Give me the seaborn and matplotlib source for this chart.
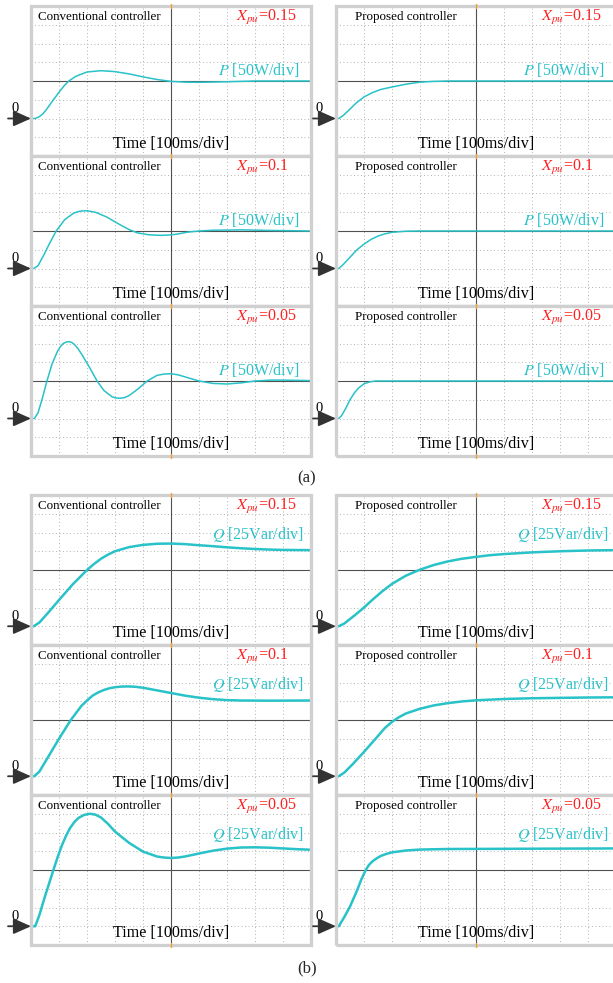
import numpy as np
import matplotlib
matplotlib.use("Agg")
import matplotlib.pyplot as plt
from matplotlib.patches import Rectangle
from matplotlib.ticker import MultipleLocator
import seaborn as sns

# ---------------- measured step responses ----------------
# (a) active power P [W], time t [ms]
p_conv_015_t = [0, 15, 30, 40, 50, 60, 75, 87, 100, 117, 135, 160, 200, 250, 300, 350, 400, 450, 500, 550, 600,
                700, 800, 1000]
p_conv_015 = [0, 0, 5, 11, 19, 29, 45, 57, 70, 86, 100, 112.5, 124, 127.5, 125, 119, 111, 104, 99, 97, 96.5,
              98, 100, 100]

p_prop_015_t = [0, 10, 25, 50, 70, 100, 130, 160, 200, 250, 300, 350, 400, 1000]
p_prop_015 = [0, 0, 7.5, 25, 40, 57.5, 69, 77.5, 84, 91.5, 97, 99, 100, 100]

p_conv_010_t = [0, 10, 25, 45, 65, 90, 120, 150, 165, 180, 200, 230, 270, 310, 350, 380, 420, 445, 470, 495, 520,
                560, 600, 650, 750, 850, 1000]
p_conv_010 = [0, 0, 7.5, 35, 65, 100, 130, 146.5, 151, 153.5, 154, 150, 137.5, 120, 104, 95, 90, 89, 88.5, 89.5,
              91.5, 97, 100, 102, 103, 101.5, 100]

p_prop_010_t = [0, 10, 25, 50, 75, 100, 125, 150, 175, 200, 250, 300, 1000]
p_prop_010 = [0, 0, 10, 30, 50, 65, 77.5, 86.5, 92.5, 96.5, 99.5, 100, 100]

p_conv_005_t = [0, 12, 25, 40, 57, 75, 95, 105, 115, 125, 135, 145, 155, 167, 180, 195, 210, 236, 260, 290, 305,
                320, 335, 350, 380, 415, 450, 475, 500, 525, 550, 600, 650, 700, 750, 800, 860, 930, 1000]
p_conv_005 = [0, 0, 15, 52.5, 100, 145, 180, 191.5, 200, 203.5, 205, 203, 197.5, 187, 172.5, 154, 135, 100, 75,
              57.5, 54.5, 54, 56, 61, 77.5, 100, 115, 118.5, 119.5, 116.5, 111, 100, 93.5, 92, 95, 100, 102.5,
              102, 101]

p_prop_005_t = [0, 10, 20, 35, 50, 65, 80, 100, 120, 140, 1000]
p_prop_005 = [0, 0, 7.5, 27.5, 50, 67.5, 81, 92.5, 97.5, 100, 100]

# (b) reactive power Q [Var], time t [ms]
q_conv_015_t = [0, 10, 30, 60, 100, 150, 200, 225, 250, 275, 300, 350, 400, 450, 500, 550, 600, 650, 700, 750,
                800, 850, 900, 1000]
q_conv_015 = [0, 0, 5, 17.5, 35, 56.25, 75, 83, 90, 95.5, 100, 105.5, 108.5, 110, 110.25, 109.5, 108, 106.75,
              105.25, 104, 103, 102.25, 101.75, 101.5]

q_prop_015_t = [0, 10, 30, 70, 100, 130, 165, 200, 250, 300, 350, 400, 450, 500, 550, 600, 700, 800, 900, 1000]
q_prop_015 = [0, 0, 3.75, 15.5, 25, 35.25, 46.5, 56.5, 67.5, 75.5, 81.75, 86.5, 90, 92.5, 94.75, 96.25, 98.5,
              100, 101, 101.5]

q_conv_010_t = [0, 12, 30, 60, 100, 142, 180, 200, 220, 240, 260, 280, 300, 325, 350, 375, 400, 450, 500, 550,
                600, 650, 700, 750, 850, 1000]
q_conv_010 = [0, 0, 6.25, 25, 50, 75, 93.75, 101, 107.5, 111.8, 115, 117.3, 118.75, 119.6, 119.75, 119.2, 118,
              114.5, 111, 107.5, 104.75, 102.75, 101.5, 101, 100.75, 101]

q_prop_010_t = [0, 10, 30, 60, 100, 150, 175, 200, 225, 250, 300, 350, 400, 450, 500, 600, 700, 800, 900, 1000]
q_prop_010 = [0, 0, 5, 16.25, 32.5, 53.75, 64.5, 72.5, 78.8, 83.75, 90, 94.5, 97.5, 99.75, 101.25, 103, 104,
              104.5, 105, 105.25]

q_conv_005_t = [0, 15, 30, 50, 65, 80, 95, 110, 125, 140, 155, 170, 190, 210, 230, 250, 275, 300, 350, 400, 450,
                475, 500, 525, 550, 600, 650, 700, 750, 800, 850, 900, 950, 1000]
q_conv_005 = [0, 0, 15, 40, 57.5, 75, 92, 107.5, 120.5, 131.25, 139, 144.5, 148.5, 150, 148.8, 145, 136.5, 126.25,
              111.25, 99.5, 93, 91.6, 91, 91.6, 93, 97, 100.75, 103.5, 105, 105.25, 104.75, 103.75, 102.75, 102]

q_prop_005_t = [0, 10, 30, 50, 75, 90, 105, 117, 130, 145, 160, 180, 200, 250, 300, 400, 600, 800, 1000]
q_prop_005 = [0, 0, 12.5, 26.25, 47.5, 62, 74, 81.5, 86.5, 90.5, 93.75, 96.5, 98.5, 101, 102.25, 103, 103.25,
              103.5, 103.75]

controllers = ["Conventional controller", "Proposed controller"]
xpu_labels = ["0.15", "0.1", "0.05"]

# ---------------- styling ----------------
sns.set_style("white")
plt.rcParams["font.family"] = ["Liberation Serif", "DejaVu Serif"]
plt.rcParams["mathtext.fontset"] = "stix"

CYAN = "#28c2c8"
RED = "#ff2020"
AXIS = "#505050"
BORDER = "#d0d0d0"

W, H = 613, 983
fig = plt.figure(figsize=(W / 100, H / 100), dpi=100)

COL_X = [31, 336]
PANEL_W, PANEL_H = 280, 150


def make_ax(x0, top):
    return fig.add_axes([x0 / W, 1 - (top + PANEL_H) / H, PANEL_W / W, PANEL_H / H])


def draw_panel(ax, t, v, kind, controller, xpu):
    if kind == "P":
        lo, hi, step = -100, 300, 50
        label = r"$P$ [50W/div]"
        lw = 1.1
        lab_y = 0.575
    else:
        lo, hi, step = -25, 175, 25
        label = r"$Q$ [25Var/div]"
        lw = 1.8
        lab_y = 0.735
    center = (lo + hi) / 2

    sns.lineplot(x=t, y=v, ax=ax, color=CYAN, lw=lw, estimator=None, sort=False, zorder=4)
    ax.lines[-1].set_solid_joinstyle("round")
    ax.set_xlabel("")
    ax.set_ylabel("")
    ax.set_xlim(0, 1000)
    ax.set_ylim(lo, hi)

    # oscilloscope graticule: dotted grid, centre cross with fine ticks
    ax.set_xticks(np.arange(0, 1001, 100))
    ax.set_yticks(np.arange(lo, hi + 1, step))
    ax.xaxis.set_minor_locator(MultipleLocator(20))
    ax.yaxis.set_minor_locator(MultipleLocator(step / 5))
    ax.set_axisbelow(True)
    ax.grid(True, which="major", color="#b4b4b4", lw=0.7, ls=(0, (1, 2.6)))
    ax.spines["left"].set_position(("data", 500))
    ax.spines["bottom"].set_position(("data", center))
    for s in ("top", "right"):
        ax.spines[s].set_visible(False)
    for s in ("left", "bottom"):
        ax.spines[s].set_color(AXIS)
        ax.spines[s].set_linewidth(0.8)
    ax.tick_params(which="both", direction="inout", length=4, width=0.7, colors=AXIS,
                   labelbottom=False, labelleft=False)

    ax.add_patch(Rectangle((0, 0), 1, 1, transform=ax.transAxes, fill=False,
                           ec=BORDER, lw=2.4, clip_on=False, zorder=6))
    for yy in (0.0, 1.0):
        ax.plot([0.5, 0.5], [yy - 0.012, yy + 0.012], transform=ax.transAxes,
                color="#f0a030", lw=1.0, clip_on=False, zorder=7)

    # labels
    ax.text(0.025 if controller.startswith("Conv") else 0.068, 0.925, controller,
            transform=ax.transAxes, ha="left", va="center", fontsize=9.4, color="black")
    ax.text(0.732, 0.925, r"$X_{pu}$=" + xpu, transform=ax.transAxes, ha="left",
            va="center", fontsize=11.5, color=RED)
    ax.text(0.958 if kind == "P" else 0.975, lab_y, label, transform=ax.transAxes,
            ha="right", va="center", fontsize=11.5, color=CYAN)
    ax.text(0.5, 0.08, "Time [100ms/div]", transform=ax.transAxes, ha="center",
            va="center", fontsize=11.6, color="black")

    # zero marker
    trans = ax.get_yaxis_transform()
    ax.annotate("", xy=(0, 0), xycoords=trans, xytext=(-23 / PANEL_W, 0), textcoords=trans,
                arrowprops=dict(arrowstyle="-|>,head_length=0.9,head_width=0.4",
                                color="#333333", lw=1.3, shrinkA=0, shrinkB=0,
                                mutation_scale=12),
                annotation_clip=False, zorder=8)
    ax.annotate("0", xy=(-20 / PANEL_W, 0), xycoords=trans, xytext=(0, 2.5),
                textcoords="offset points", ha="left", va="bottom", fontsize=10.5,
                color="black", annotation_clip=False)


p_series = [
    (p_conv_015_t, p_conv_015, p_prop_015_t, p_prop_015),
    (p_conv_010_t, p_conv_010, p_prop_010_t, p_prop_010),
    (p_conv_005_t, p_conv_005, p_prop_005_t, p_prop_005),
]
q_series = [
    (q_conv_015_t, q_conv_015, q_prop_015_t, q_prop_015),
    (q_conv_010_t, q_conv_010, q_prop_010_t, q_prop_010),
    (q_conv_005_t, q_conv_005, q_prop_005_t, q_prop_005),
]

for group, tops, kind in ((p_series, [6, 156, 306], "P"), (q_series, [495, 645, 795], "Q")):
    for row, (ct, cv, pt, pv) in enumerate(group):
        for col, (t, v) in enumerate(((ct, cv), (pt, pv))):
            ax = make_ax(COL_X[col], tops[row])
            draw_panel(ax, t, v, kind, controllers[col], xpu_labels[row])

fig.text(307 / W, 1 - 478 / H, "(a)", ha="center", va="center", fontsize=12)
fig.text(307 / W, 1 - 968 / H, "(b)", ha="center", va="center", fontsize=12)

fig.savefig("out.png", dpi=100)
